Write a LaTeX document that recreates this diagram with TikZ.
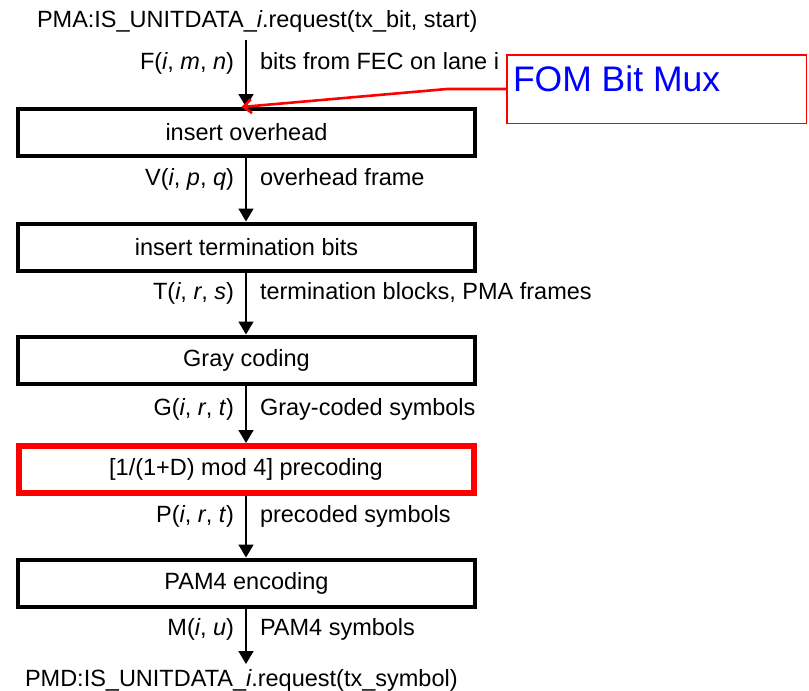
\documentclass[tikz,border=0pt]{standalone}
\usepackage{fontspec}
\setmainfont{Liberation Sans}
\usetikzlibrary{arrows.meta}
\begin{document}
\begin{tikzpicture}[x=1pt,y=-1pt,
  every node/.style={font=\fontsize{23.5}{28}\selectfont, inner sep=0pt, outer sep=0pt},
  blk/.style={draw=black, line width=4pt, minimum width=457pt, minimum height=47pt, inner sep=0pt, outer sep=2pt},
  redblk/.style={draw=red, line width=6pt, minimum width=455pt, minimum height=47pt, inner sep=0pt, outer sep=3pt},
  arr/.style={line width=1.6pt, -{Triangle[length=13pt,width=15pt]}},
  lab/.style={anchor=base east},
  desc/.style={anchor=base west},
  fombox/.style={draw=red, line width=1.5pt, minimum width=299.5pt, minimum height=68.5pt},
  fomtext/.style={anchor=base west, text=blue, font=\fontsize{35.5}{40}\selectfont},
  redarr/.style={draw=red, line width=2.6pt, -{Straight Barb[length=8pt,width=14pt,line width=2.6pt]}}
]
\useasboundingbox (0,0) rectangle (809,691);

\node[anchor=base west] (top) at (37,27) {PMA:IS\_UNITDATA\_\textit{i}.request(tx\_bit, start)};
\coordinate (topend) at (246,40);

\node[blk] (b1) at (246.5,132.5) {insert overhead};
\node[blk] (b2) at (246.5,247) {insert termination bits};
\node[blk] (b3) at (246.5,360) {Gray coding};
\node[redblk] (b4) at (246,469.5) {[1/(1+D) mod 4] precoding};
\node[blk] (b5) at (246.5,583) {PAM4 encoding};

\node[anchor=base west] (bot) at (25,686) {PMD:IS\_UNITDATA\_\textit{i}.request(tx\_symbol)};
\coordinate (botend) at (246,664);

\draw[arr] (topend) -- (topend |- b1.north);
\draw[arr] (b1.south -| topend) -- (b2.north -| topend);
\draw[arr] (b2.south -| topend) -- (b3.north -| topend);
\draw[arr] (b3.south -| topend) -- (b4.north -| topend);
\draw[arr] (b4.south -| topend) -- (b5.north -| topend);
\draw[arr] (b5.south -| topend) -- (botend);

\node[lab] (lf) at (234,69) {F(\textit{i}, \textit{m}, \textit{n})};
\node[desc] (df) at (260,69) {bits from FEC on lane i};
\node[lab] (lv) at (234,185) {V(\textit{i}, \textit{p}, \textit{q})};
\node[desc] (dv) at (260,185) {overhead frame};
\node[lab] (lt) at (234,299) {T(\textit{i}, \textit{r}, \textit{s})};
\node[desc] (dt) at (260,299) {termination blocks, PMA frames};
\node[lab] (lg) at (234,415) {G(\textit{i}, \textit{r}, \textit{t})};
\node[desc] (dg) at (260,415) {Gray-coded symbols};
\node[lab] (lp) at (234,522) {P(\textit{i}, \textit{r}, \textit{t})};
\node[desc] (dp) at (260,522) {precoded symbols};
\node[lab] (lm) at (234,635) {M(\textit{i}, \textit{u})};
\node[desc] (dm) at (260,635) {PAM4 symbols};

\node[fombox] (fom) at (656.5,89) {};
\node[fomtext] (fomt) at (513,91) {FOM Bit Mux};
\coordinate (bend) at (447,89);
\draw[redarr] (fom.west) -- (bend) -- ([xshift=-5pt]b1.north);
\end{tikzpicture}
\end{document}
